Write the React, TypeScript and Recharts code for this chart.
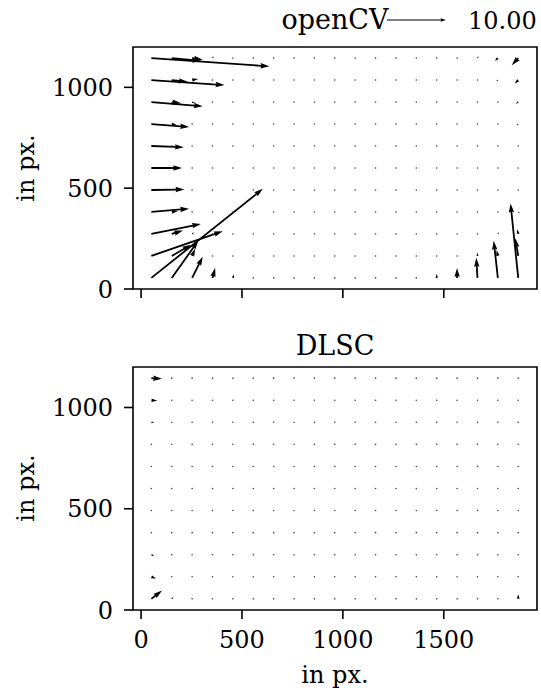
import React from "react";
import { ScatterChart, Scatter, XAxis, YAxis, ReferenceArea } from "recharts";

// grid centres of the 1920x1200 image (19 x 11 samples)
const gridX = [51, 152, 253, 354, 455, 556, 657, 758, 859, 960, 1061, 1162, 1263, 1364, 1465, 1566, 1667, 1768, 1869];
const gridY = [55, 164, 273, 382, 491, 600, 709, 818, 927, 1036, 1145];
const xTicks = [0, 500, 1000, 1500];
const yTicks = [0, 500, 1000];
const keyValue = 10;

// [col, row, u, v] - every other grid point is ~0
const openCvVectors = [
  [0, 10, 20.0, -1.4], [1, 10, 5.0, -0.5], [2, 10, 1.8, -0.3], [3, 10, 0.2, 0.3],
  [0, 9, 12.4, -0.85], [1, 9, 2.7, -0.3], [2, 9, 1.0, 0.2],
  [0, 8, 8.7, -0.7], [1, 8, 1.6, -0.2], [2, 8, 0.5, -0.1],
  [0, 7, 6.4, -0.5], [1, 7, 0.8, -0.1],
  [0, 6, 5.5, -0.2], [1, 6, 0.3, 0],
  [0, 5, 5.2, 0],
  [0, 4, 5.6, 0.1],
  [0, 3, 6.4, 0.55], [1, 3, 1.0, 0.1],
  [0, 2, 8.4, 1.7], [1, 2, 1.9, 0.6], [2, 2, 0.3, 0.3],
  [0, 1, 12.1, 4.2], [1, 1, 3.3, 1.9], [2, 1, 0.5, 1.2],
  [0, 0, 18.9, 15.1], [1, 0, 4.5, 6.3], [2, 0, 1.8, 3.6], [3, 0, 0.45, 1.7], [4, 0, 0.2, 0.6],
  [14, 0, 0, 0.7], [15, 0, 0, 1.7], [16, 0, -0.2, 3.4], [17, 0, -0.7, 6.3], [18, 0, -1.3, 12.6],
  [16, 1, 0, 0.6], [17, 1, -0.2, 1.0], [18, 1, -0.5, 3.0],
  [17, 2, 0.2, 0.3], [18, 2, -0.2, 0.8],
  [18, 3, 0.3, -0.2],
  [18, 4, 0.2, -0.1],
  [18, 5, -0.25, 0],
  [18, 6, -0.2, -0.1],
  [18, 7, -0.3, -0.2],
  [18, 8, -0.4, -0.3],
  [17, 9, -0.3, -0.2], [18, 9, -0.6, -0.6],
  [16, 10, 0.2, 0.3], [17, 10, -0.5, -0.5], [18, 10, -1.1, -1.2],
];

const dlscVectors = [
  [0, 10, 1.8, -0.1],
  [0, 9, 1.0, -0.1],
  [0, 8, 0.5, 0],
  [0, 7, 0.2, 0],
  [0, 2, 0.5, -0.2],
  [0, 1, 0.8, -0.3],
  [0, 0, 1.8, 1.4], [1, 0, 0.3, 0.3],
  [17, 0, 0.1, 0.2], [18, 0, 0, 0.8], [18, 1, 0, 0.3],
];

const PX_PER_UNIT = 5.9;
const SHAFT = 1.8;
const FONT = "DejaVu Serif";

function buildPoints(vectors: number[][]) {
  const lookup = new Map(vectors.map(([c, r, u, v]) => [`${c}-${r}`, { u, v }]));
  return gridY.flatMap((y, r) =>
    gridX.map((x, c) => ({ x, y, ...(lookup.get(`${c}-${r}`) || { u: 0, v: 0 }) }))
  );
}

// matplotlib-like quiver arrow polygon
function Arrow({ x, y, dx, dy, w }: { x: number; y: number; dx: number; dy: number; w: number }) {
  const L = Math.hypot(dx, dy);
  if (L < w) return <circle cx={x} cy={y} r={0.8} fill="#444" />;
  const s = L < 5 * w ? L / (5 * w) : 1;
  const sw = w * s, hl = 5 * w * s, hw = 3 * w * s, ha = 4.5 * w * s;
  const ux = dx / L, uy = dy / L;
  const pts = [[0, -sw / 2], [L - ha, -sw / 2], [L - hl, -hw / 2], [L, 0], [L - hl, hw / 2], [L - ha, sw / 2], [0, sw / 2]]
    .map(([t, n]) => `${x + t * ux - n * uy},${y + t * uy + n * ux}`)
    .join(" ");
  return <polygon points={pts} fill="#000" />;
}

const quiverShape = (props: any) => {
  const { cx, cy, payload } = props;
  return <Arrow x={cx} y={cy} dx={payload.u * PX_PER_UNIT} dy={-payload.v * PX_PER_UNIT} w={SHAFT} />;
};

const tickStyle = { fontSize: 24, fill: "#000", fontFamily: FONT };
const tickLineStyle = { stroke: "#000", strokeWidth: 1.6 };
const noLabel = () => <g />;

const Panel = ({ data, showXLabels, height, margin, xHeight }: any) => (
  <ScatterChart width={541} height={height} margin={margin}>
    <XAxis
      type="number"
      dataKey="x"
      domain={[-40, 1962]}
      allowDataOverflow
      ticks={xTicks}
      axisLine={false}
      tickSize={9}
      tickMargin={12}
      tickLine={tickLineStyle}
      tick={showXLabels ? tickStyle : noLabel}
      height={xHeight}
    />
    <YAxis
      type="number"
      dataKey="y"
      domain={[0, 1200]}
      allowDataOverflow
      ticks={yTicks}
      axisLine={false}
      tickSize={9}
      tickMargin={11}
      tickLine={tickLineStyle}
      tick={tickStyle}
      width={60}
    />
    <ReferenceArea x1={-40} x2={1962} y1={0} y2={1200} fill="none" stroke="#000" strokeWidth={1.6} />
    <Scatter data={data} shape={quiverShape} isAnimationActive={false} />
  </ScatterChart>
);

export default function App() {
  const keyLen = keyValue * PX_PER_UNIT;
  return (
    <div style={{ position: "absolute", left: 0, top: 0, width: 541, height: 690, background: "#fff" }}>
      <div style={{ position: "absolute", left: 0, top: 0 }}>
        <Panel data={buildPoints(openCvVectors)} showXLabels={false} height={320}
          margin={{ top: 47, right: 4, bottom: 1, left: 73 }} xHeight={30} />
      </div>
      <div style={{ position: "absolute", left: 0, top: 320 }}>
        <Panel data={buildPoints(dlscVectors)} showXLabels height={370}
          margin={{ top: 47, right: 4, bottom: 20, left: 73 }} xHeight={60} />
      </div>
      <svg width={541} height={690} style={{ position: "absolute", left: 0, top: 0, pointerEvents: "none" }}>
        <g fontFamily={FONT} fill="#000">
          <text x={335} y={28.5} fontSize={27} textAnchor="middle">openCV</text>
          <Arrow x={387} y={20} dx={keyLen} dy={0} w={1.1} />
          <text x={468} y={28.5} fontSize={24}>10.00</text>
          <text x={335} y={355} fontSize={27} textAnchor="middle">DLSC</text>
          <text transform="translate(34,168) rotate(-90)" fontSize={24} textAnchor="middle">in px.</text>
          <text transform="translate(34,488) rotate(-90)" fontSize={24} textAnchor="middle">in px.</text>
          <text x={335} y={683} fontSize={24} textAnchor="middle">in px.</text>
        </g>
      </svg>
    </div>
  );
}
